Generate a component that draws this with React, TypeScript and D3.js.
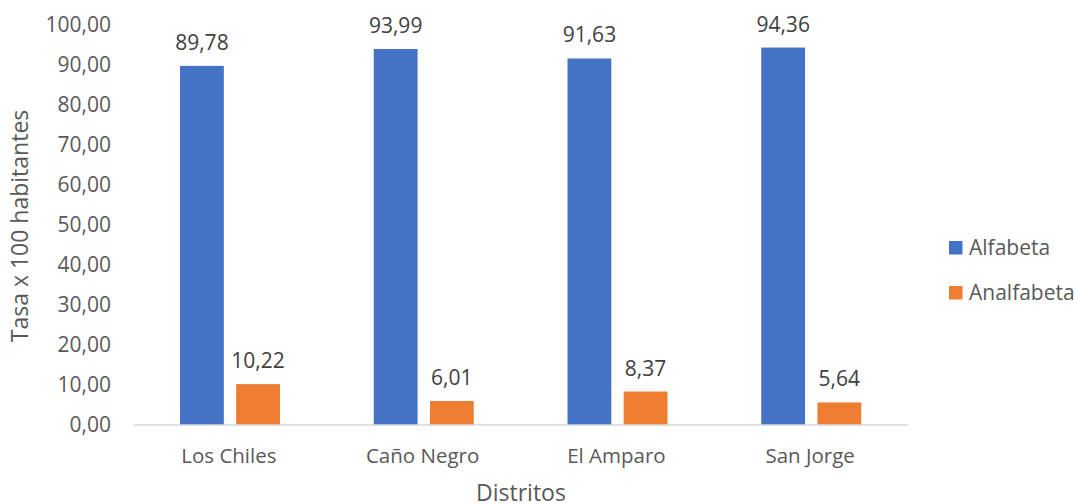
import React from "react";
import * as d3 from "d3";

const categories = ["Los Chiles", "Caño Negro", "El Amparo", "San Jorge"];
const seriesNames = ["Alfabeta", "Analfabeta"];
const alfabeta = [89.78, 93.99, 91.63, 94.36];
const analfabeta = [10.22, 6.01, 8.37, 5.64];
const yTicks = [0, 10, 20, 30, 40, 50, 60, 70, 80, 90, 100];
const colors = ["#4472C4", "#ED7D31"];

const W = 1075;
const H = 504;
const FONT = "'Open Sans', 'Liberation Sans', sans-serif";
const TXT = "#595959";

const fmt = (v: number) => v.toFixed(2).replace(".", ",");

export default function App() {
  const x0 = d3.scaleBand<string>().domain(categories).range([133, 908]).padding(0);
  const x1 = d3
    .scaleBand<string>()
    .domain(seriesNames)
    .range([47, 147])
    .paddingInner(0.22);
  const y = d3.scaleLinear().domain([0, 100]).range([425, 25]);
  const values = [alfabeta, analfabeta];

  return (
    <svg
      width={W}
      height={H}
      style={{ position: "absolute", left: 0, top: 0, background: "#fff" }}
      fontFamily={FONT}
    >
      {/* y tick labels */}
      {yTicks.map((t) => (
        <text
          key={t}
          x={111}
          y={y(t)}
          dy="0.35em"
          textAnchor="end"
          fontSize={21}
          fill={TXT}
        >
          {fmt(t)}
        </text>
      ))}
      {/* bars */}
      {categories.map((c, i) =>
        seriesNames.map((s, j) => {
          const v = values[j][i];
          const bx = (x0(c) as number) + (x1(s) as number);
          const bw = x1.bandwidth();
          return (
            <g key={c + s}>
              <rect x={bx} y={y(v)} width={bw} height={y(0) - y(v)} fill={colors[j]} />
              <text
                x={bx + bw / 2}
                y={y(v) - 16}
                textAnchor="middle"
                fontSize={21}
                fill="#404040"
              >
                {fmt(v)}
              </text>
            </g>
          );
        })
      )}
      {/* x axis line */}
      <line x1={133} x2={908} y1={y(0)} y2={y(0)} stroke="#D9D9D9" strokeWidth={1.5} />
      {/* category labels */}
      {categories.map((c) => (
        <text
          key={c}
          x={(x0(c) as number) + x0.bandwidth() / 2 - 1}
          y={463}
          textAnchor="middle"
          fontSize={20.5}
          fill={TXT}
        >
          {c}
        </text>
      ))}
      {/* axis titles */}
      <text
        transform={`translate(28,${226}) rotate(-90)`}
        textAnchor="middle"
        fontSize={23}
        fill={TXT}
      >
        Tasa x 100 habitantes
      </text>
      <text x={521} y={501} textAnchor="middle" fontSize={23} fill={TXT}>
        Distritos
      </text>
      {/* legend */}
      {seriesNames.map((s, j) => (
        <g key={s} transform={`translate(949,${241 + j * 45})`}>
          <rect x={0} y={0} width={13.5} height={13.5} fill={colors[j]} />
          <text x={20} y={7} dy="0.35em" fontSize={21} fill={TXT}>
            {s}
          </text>
        </g>
      ))}
    </svg>
  );
}
